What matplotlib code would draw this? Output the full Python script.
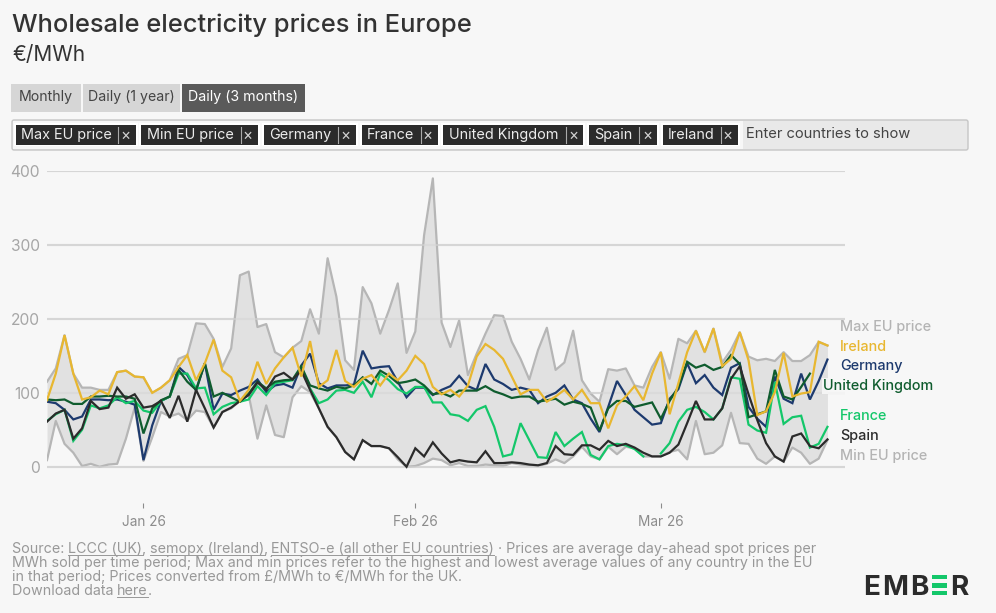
import matplotlib
matplotlib.use("Agg")
import numpy as np, pandas as pd
import matplotlib.pyplot as plt
from matplotlib.patches import Rectangle, FancyBboxPatch

nan = float("nan")
dates = pd.date_range("2025-12-21", periods=90)
tick_dates = pd.to_datetime(["2026-01-01", "2026-02-01", "2026-03-01"])
tick_labels = ["Jan 26", "Feb 26", "Mar 26"]
y_ticks = [0, 100, 200, 300, 400]

max_eu = [115,133,178,126,107,107,104,104,128,130,122,121,100,107,117,146,151,194,193,173,135,160,259,264,189,193,155,148,161,170,
          213,180,282,230,144,131,243,221,180,212,248,154,183,313,390,195,162,198,124,153,180,205,204,169,146,118,158,188,131,141,
          184,117,99,88,132,130,133,110,107,135,155,119,173,167,184,155,187,141,158,182,149,144,146,143,155,143,143,151,169,164]
min_eu = [9,62,31,19,1,4,0,3,4,38,80,8,40,74,68,72,63,76,74,53,74,79,89,97,38,83,43,40,94,109,
          101,79,54,40,20,10,36,28,28,25,10,0,1,5,11,9,2,5,1,1,3,2,1,5,3,2,1,4,10,5,
          14,27,14,10,27,17,27,25,14,14,14,20,23,10,62,17,19,29,73,32,31,11,4,14,7,26,19,4,11,36]
germany = [88,86,77,64,68,91,91,90,91,88,84,9,56,89,95,135,124,103,140,77,99,97,103,108,118,101,110,112,107,137,
           153,113,106,110,110,111,157,133,135,136,115,94,107,107,97,104,109,123,109,104,139,118,112,104,107,104,86,95,100,110,
           91,86,65,47,81,116,97,77,67,57,59,92,105,140,113,124,107,97,134,140,81,65,54,122,92,86,126,91,116,145]
france = [62,71,77,35,50,83,79,83,94,86,89,76,73,89,95,126,126,106,107,71,81,86,88,91,109,97,113,115,117,133,
          106,86,91,103,104,100,115,94,126,117,105,99,108,108,87,87,71,69,62,77,82,54,14,17,59,36,13,12,47,28,
          38,47,16,10,28,31,29,24,14,nan,18,32,61,77,81,74,64,79,121,119,57,49,46,115,58,67,69,26,31,54]
uk = [91,90,91,85,85,95,95,96,95,95,92,45,79,90,95,131,115,104,140,95,100,94,88,99,115,106,115,117,118,136,
      110,106,103,108,106,110,121,112,130,123,113,115,118,110,98,100,95,103,103,103,109,102,98,93,95,95,88,90,92,84,
      88,85,80,49,79,89,89,81,84,87,65,89,108,142,134,138,131,135,151,139,67,71,75,131,95,91,108,126,nan,nan]
spain = [61,72,77,38,52,89,78,80,107,92,98,80,82,89,66,96,61,104,79,53,74,80,89,97,114,104,122,127,118,130,
         104,79,54,40,20,10,36,28,28,25,13,0,25,14,33,18,6,9,7,6,21,5,5,6,5,3,2,5,28,17,
         16,29,29,23,35,28,31,26,19,14,14,19,30,59,89,64,64,79,119,136,98,63,32,14,7,41,45,28,25,37]
ireland = [90,126,178,126,91,94,103,98,128,130,122,121,100,107,117,135,151,117,140,172,130,121,89,104,142,112,133,148,161,122,
           170,108,117,158,116,108,119,124,110,126,117,130,150,139,108,98,104,95,110,149,166,158,146,122,98,104,104,88,95,104,
           91,104,86,86,52,83,95,109,90,126,155,71,113,155,184,155,187,136,146,182,144,70,75,101,154,95,99,101,169,164]

GREY_LINE = "#b6b6b6"; FILL = "#e0e0e0"; IRE = "#e8b730"; GER = "#1d3a6e"
UKC = "#0f5c2e"; FRA = "#14c76a"; ESP = "#2b2b2b"; BG = "#f7f7f7"
FONT = "Inter"
W, H = 996, 613

fig = plt.figure(figsize=(W/100, H/100), dpi=100, facecolor=BG)

L, R, T, B = 47, 845, 171, 503
ax = fig.add_axes([L/W, 1-B/H, (R-L)/W, (B-T)/H], facecolor="none")
x_end = dates[0] + pd.Timedelta(days=91)
ax.set_xlim(dates[0], x_end)
ax.set_ylim(-49, 400)
for s in ax.spines.values():
    s.set_visible(False)
ax.set_yticks(y_ticks)
ax.set_yticklabels([str(v) for v in y_ticks], fontsize=11.2, color="#a6a6a6", family=FONT)
ax.tick_params(axis="y", length=0, pad=5)
ax.set_xticks(tick_dates)
ax.set_xticklabels(tick_labels, fontsize=9.8, color="#8c8c8c", family=FONT)
ax.tick_params(axis="x", length=3.5, width=0.8, color="#8c8c8c", pad=5)
ax.grid(axis="y", color="#d6d6d6", lw=1.5, zorder=0)
ax.set_axisbelow(True)

ax.fill_between(dates, min_eu, max_eu, color=FILL, lw=0, alpha=0.95, zorder=1)
ax.plot(dates, max_eu, color=GREY_LINE, lw=1.6, zorder=2)
ax.plot(dates, min_eu, color=GREY_LINE, lw=1.6, zorder=2)
ax.hlines(y_ticks, dates[0], x_end, color="#d6d6d6", lw=1.5, zorder=2, alpha=0.55)
for series, col, z in [(germany, GER, 3), (france, FRA, 4), (uk, UKC, 5), (spain, ESP, 6), (ireland, IRE, 7)]:
    ax.plot(dates, series, color=col, lw=1.6, zorder=z, solid_joinstyle="miter")

ui = fig.add_axes([0, 0, 1, 1], facecolor="none")
ui.set_xlim(0, W); ui.set_ylim(H, 0); ui.axis("off")

def txt(x, y, s, size, color, weight="normal", ha="left", va="baseline", **kw):
    return ui.text(x, y, s, fontsize=size, color=color, fontweight=weight, ha=ha, va=va, family=FONT, **kw)

txt(12, 32, "Wholesale electricity prices in Europe", 18.35, "#333333", weight="medium")
txt(12, 61, "€/MWh", 15, "#333333")

for x0, x1, label, bg, fg in [(11, 81, "Monthly", "#d6d6d6", "#444444"),
                              (83, 180, "Daily (1 year)", "#d6d6d6", "#444444"),
                              (182, 305, "Daily (3 months)", "#5a5a5a", "#ffffff")]:
    ui.add_patch(Rectangle((x0, 84), x1-x0, 28, fc=bg, ec="none"))
    txt((x0+x1)/2, 101, label, 10.2, fg, ha="center")

ui.add_patch(FancyBboxPatch((12, 120), 956, 30, boxstyle="round,pad=0,rounding_size=2",
                            fc="#e9e9e9", ec="#c6c6c6", lw=1))
ui.add_patch(Rectangle((13, 121), 730, 28, fc="#f7f7f7", ec="none"))
txt(745.5, 138, "Enter countries to show", 10.6, "#444444")

chips = [("Max EU price", 16, 136, 21, 118, 127), ("Min EU price", 141, 258, 147, 241, 249),
         ("Germany", 264, 356, 269, 338, 347), ("France", 362, 438, 367, 421, 429),
         ("United Kingdom", 443, 583, 449, 566, 574), ("Spain", 589, 657, 594, 639, 648),
         ("Ireland", 663, 738, 668, 721, 729)]
for label, x0, x1, tx, sep, cx in chips:
    ui.add_patch(Rectangle((x0-2, 123), x1-x0+4, 23, fc="#ffffff", ec="none"))
    ui.add_patch(Rectangle((x0, 125), x1-x0, 20, fc="#2b2b2b", ec="none"))
    txt(tx, 139, label, 10.4, "#ececec")
    ui.plot([sep, sep], [127, 143], color="#aaaaaa", lw=0.8)
    txt(cx-1, 139.5, "×", 11, "#d0d0d0", ha="center")

for label, y, col in [("Max EU price", 331, "#b4b4b4"), ("Ireland", 351, IRE), ("Germany", 370, GER),
                      ("France", 420, FRA), ("Spain", 440, ESP), ("Min EU price", 460, "#b4b4b4")]:
    txt(840, y, label, 10.35, col, weight="medium")
txt(823, 390, "United Kingdom", 10.35, UKC, weight="medium",
    bbox=dict(fc=BG, ec="none", pad=1, alpha=0.9))

fig.canvas.draw()
rend = fig.canvas.get_renderer()
inv = ui.transData.inverted()
FC = "#989898"
FS = 10.3
def runs(x, y, parts):
    for s, ul in parts:
        t = txt(x, y, s, FS, FC)
        bb = t.get_window_extent(rend)
        x2 = inv.transform((bb.x1, bb.y0))[0]
        if ul:
            ui.plot([x, x2], [y+2, y+2], color=FC, lw=0.7)
        x = x2 - 0.3
runs(12, 553, [("Source: ", 0), ("LCCC (UK)", 1), (", ", 0), ("semopx (Ireland)", 1), (", ", 0),
               ("ENTSO-e (all other EU countries)", 1), (" · Prices are average day-ahead spot prices per", 0)])
txt(12, 567, "MWh sold per time period; Max and min prices refer to the highest and lowest average values of any country in the EU", FS, FC)
txt(12, 581, "in that period; Prices converted from £/MWh to €/MWh for the UK.", FS, FC)
runs(12, 595, [("Download data ", 0), ("here", 1), (".", 0)])

# logo: dark letters and three green bars for the second E
for s, xc in [("E", 872), ("M", 895), ("B", 919.5), ("R", 959.5)]:
    txt(xc, 595, s, 20, "#2b2b2b", weight="bold", ha="center")
for y0, y1 in [(575, 579), (583, 587.5), (591, 595)]:
    ui.add_patch(Rectangle((932, y0), 15, y1-y0, fc=FRA, ec="none"))

fig.savefig("out.png", dpi=100, facecolor=BG)
